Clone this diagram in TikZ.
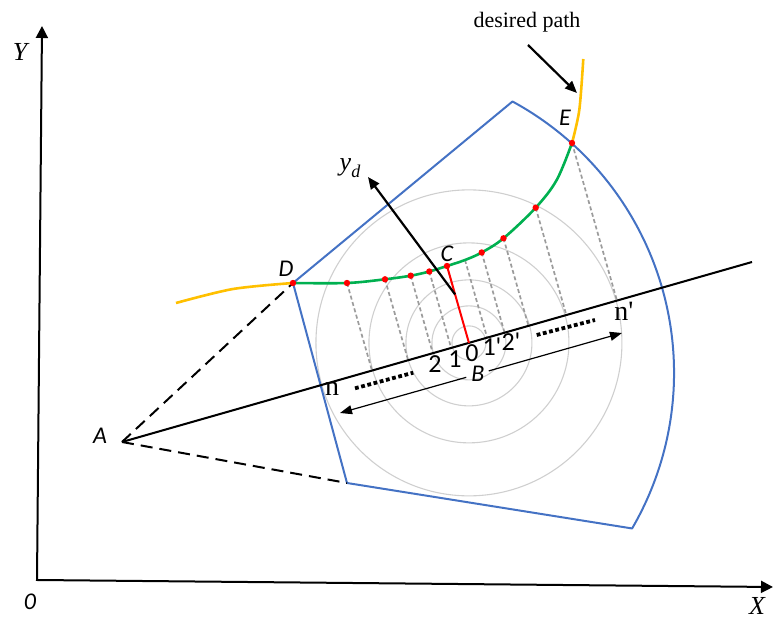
\documentclass[tikz,border=0pt]{standalone}
\usepackage{fontspec}
\setmainfont{Liberation Serif}
\newfontfamily\calibri{Carlito}
\usetikzlibrary{arrows.meta,positioning,calc}

\definecolor{zoneblue}{HTML}{4472C4}
\definecolor{trackgreen}{HTML}{00B050}
\definecolor{pathgold}{HTML}{FFC000}
\definecolor{ringgray}{HTML}{CFCFCF}
\definecolor{projgray}{HTML}{9C9C9C}

\begin{document}
\begin{tikzpicture}[
            x=0.5pt, y=-0.5pt,
            axis/.style={
                line width=1pt,
                {Triangle[length=6pt,width=6pt]}-{Triangle[length=6pt,width=6pt]}
            },
            zone/.style={
                draw=zoneblue,
                line width=1pt,
                line join=round
            },
            ring/.style={draw=ringgray, line width=0.55pt},
            proj/.style={
                draw=projgray,
                line width=0.85pt,
                dash pattern=on 2pt off 1.3pt
            },
            guide/.style={line width=1pt, dash pattern=on 6pt off 3.5pt},
            track/.style={draw=trackgreen, line width=1.3pt},
            desired/.style={draw=pathgold, line width=1.3pt},
            sample/.style={
                fill=red,
                circle,
                inner sep=0pt,
                minimum size=3.2pt
            },
            indexdots/.style={line width=1.9pt, dash pattern=on 1.9pt off 1.3pt},
            ptlabel/.style={font=\calibri\itshape\fontsize{12}{12}\selectfont, inner sep=1pt},
            idx/.style={font=\calibri\fontsize{13}{13}\selectfont, inner sep=0pt},
            serif/.style={font=\fontsize{14}{14}\selectfont, inner sep=0pt},
            axislabel/.style={font=\itshape\fontsize{13}{13}\selectfont, inner sep=0pt},
            node distance=2pt
        ]

            \useasboundingbox (0,0) rectangle (773,620);

            % --- Frame and key points ---
            \coordinate (O) at (37,580);
            \coordinate (Yend) at (42,26);
            \coordinate (Xend) at (773,587);
            \coordinate (A) at (122,442);
            \coordinate (Aend) at (752,262);
            \coordinate (D) at (293,283);
            \coordinate (T) at (512.5,101.5);
            \coordinate (L) at (347,483);
            \coordinate (C) at (447,266);
            \coordinate (E) at (572,143);
            \coordinate (B0) at ($(A)!(C)!(Aend)$);

            % --- Points on the tracked curve ---
            \coordinate (p1) at (347,283);
            \coordinate (p2) at (385,279.3);
            \coordinate (p3) at (410.7,275.7);
            \coordinate (p4) at (429.3,271.5);
            \coordinate (px) at (465,260);
            \coordinate (p5) at (481.7,252.5);
            \coordinate (p6) at (503.5,238.3);
            \coordinate (p7) at (535.7,207.7);
            \coordinate (p8) at (556.7,180);

            % --- Rings around B ---
            \foreach \r in {17,37,63,100,153} {
                \draw[ring] (B0) circle[radius=\r];
            }

            % --- Projections onto the line ---
            \foreach \p in {p1,p2,p3,p4,px,p5,p6,p7,E} {
                \draw[proj] (\p) -- ($(A)!(\p)!(Aend)$);
            }

            % --- Blue zone ---
            \draw[zone] (L) -- (D) -- (T) arc[start angle=-61.5, end angle=30.2, radius=309] -- cycle;

            % --- Axes ---
            \draw[axis] (Yend) -- (O) -- (Xend);
            \node[axislabel] (Ylab) at (20,52) {Y};
            \node[axislabel] (Xlab) at (757,606) {X};
            \node[ptlabel] (Olab) at (30,602) {0};

            % --- Line through A and dashed guides ---
            \draw[line width=1pt] (A) -- (Aend);
            \draw[guide] (A) -- (D);
            \draw[guide] (A) -- (L);

            % --- Desired path ---
            \coordinate (gL) at (176,303);
            \coordinate (gLm) at (233,289);
            \coordinate (gTm) at (579.3,110);
            \coordinate (gT) at (583.3,59);
            \draw[desired] plot[smooth] coordinates {(gL) (gLm) (D)};
            \draw[desired] plot[smooth] coordinates {(E) (gTm) (gT)};
            \draw[track] plot[smooth, tension=0.55] coordinates {(D) (p1) (p2) (p3) (p4) (C) (px) (p5) (p6) (p7) (p8) (E)};

            % --- C to B and y_d ---
            \draw[red, line width=1pt] (C) -- (B0);
            \coordinate (Ys) at ($(C)!0.37!(B0)$);
            \coordinate (Ytip) at (368,177);
            \draw[line width=1.1pt, -{Triangle[length=6pt,width=5pt]}] (Ys) -- (Ytip);
            \node[font=\fontsize{13}{13}\selectfont, inner sep=0pt] (ydlab) at (350,168)
                {\textit{y}\raisebox{-0.6ex}{\fontsize{9}{9}\selectfont\textit{d}}};

            % --- Sample dots ---
            \foreach \p in {D,p1,p2,p3,p4,C,p5,p6,p7,E} {
                \node[sample] (s\p) at (\p) {};
            }

            % --- Point labels ---
            \node[ptlabel] (Alab) at (100,436) {A};
            \node[ptlabel] (Dlab) at (286,269) {D};
            \node[ptlabel, above=1pt of C] (Clab) {C};
            \node[ptlabel] (Elab) at (565,118) {E};

            % --- Desired path label ---
            \node[font=\fontsize{11}{11}\selectfont, inner sep=0pt] (dplab) at (527,22) {desired path};
            \coordinate (dptail) at (528,45);
            \coordinate (dptip) at (577,93);
            \draw[line width=1.1pt, -{Triangle[length=6pt,width=5pt]}] (dptail) -- (dptip);

            % --- Index labels along the line ---
            \node[serif] (nlab) at (332,389) {n};
            \node[serif] (nplab) at (624,311) {n\textquotesingle};
            \node[idx] (i2) at (435,364) {2};
            \node[idx] (i1) at (455,359) {1};
            \node[idx] (i0) at (472,353) {0};
            \node[idx] (i1p) at (492,347) {1\textquotesingle};
            \node[idx] (i2p) at (511,342) {2\textquotesingle};

            \coordinate (lq1) at (355,388.3);
            \coordinate (lq2) at (413.3,372.7);
            \coordinate (rq1) at (536.7,335);
            \coordinate (rq2) at (595,320);
            \draw[indexdots] (lq1) -- (lq2);
            \draw[indexdots] (rq1) -- (rq2);

            % --- Width arrow B ---
            \node[ptlabel, inner sep=0pt] (Blab) at (478,374) {B};
            \coordinate (wL) at (340,413);
            \coordinate (wR) at (622,333);
            \draw[line width=0.6pt, shorten <=2.5pt, -{Triangle[length=6pt,width=4.5pt]}] (Blab) -- (wL);
            \draw[line width=0.6pt, shorten <=2pt, -{Triangle[length=6pt,width=4.5pt]}] (Blab) -- (wR);
        \end{tikzpicture}
\end{document}
